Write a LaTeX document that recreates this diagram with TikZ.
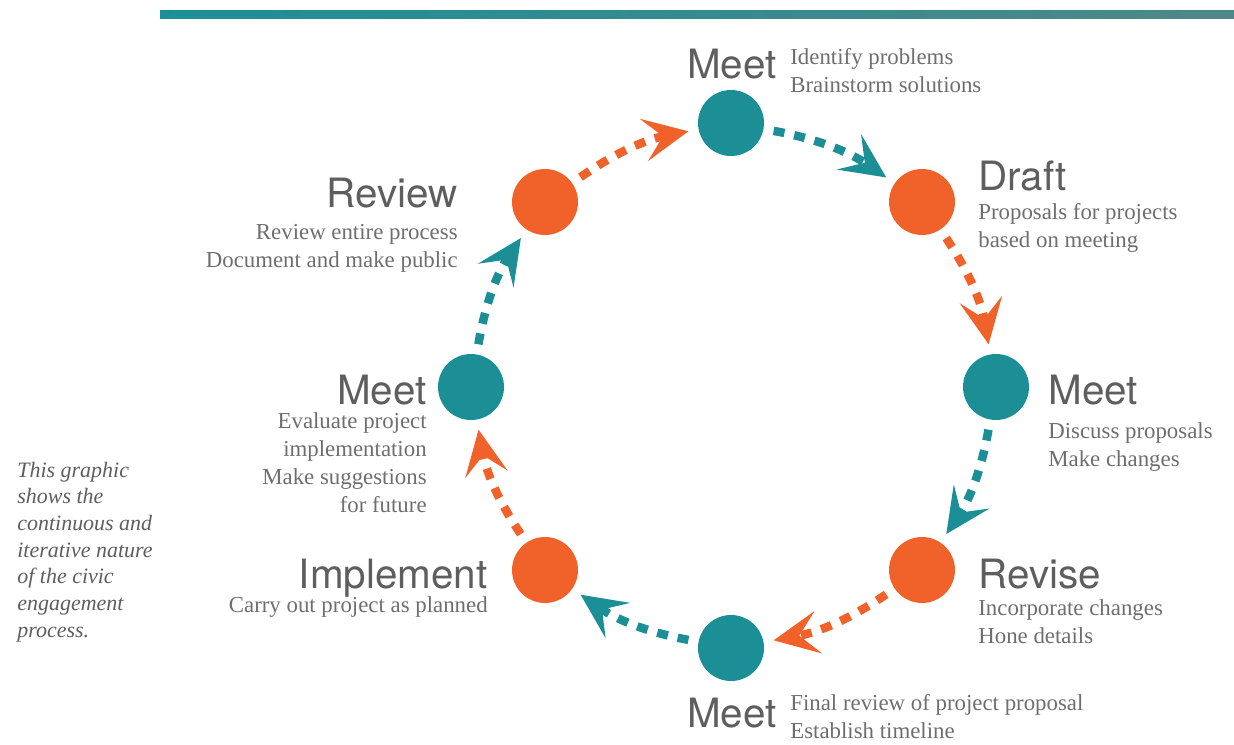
\documentclass[tikz,border=0pt]{standalone}
\usepackage{fontspec}
\setmainfont{Liberation Serif}
\newfontfamily\headfont{TeX Gyre Heros}
\usetikzlibrary{arrows.meta,positioning}
\definecolor{cycteal}{HTML}{1C8F96}
\definecolor{cycorange}{HTML}{F1622B}
\definecolor{cyctext}{HTML}{5E5E5E}
\definecolor{cycbarend}{HTML}{4E8789}

\begin{document}
\begin{tikzpicture}[
    x=0.02cm, y=-0.02cm,
    stage/.style={circle, fill=#1, minimum size=1.32cm, inner sep=0pt},
    stagename/.style={font=\headfont\fontsize{23}{26}\selectfont, text=cyctext, inner sep=0pt},
    stagenote/.style={font=\fontsize{13}{16}\selectfont, text=cyctext!90, inner sep=0pt, align=#1},
    stagenote/.default=left,
    arr/.style={draw=#1, line width=0.17cm, dash pattern=on 0.22cm off 0.2cm,
                -{Stealth[length=0.9cm, width=0.85cm, inset=0.38cm]},
                shorten <=0.2cm, shorten >=0.2cm}
]
\useasboundingbox (0,0) rectangle (1234,744);
\fill[left color=cycteal, right color=cycbarend] (160,10) rectangle (1234,18);

% the eight stages round the cycle
\node[stage=cycteal]   (meetA)     at (731,123) {};
\node[stage=cycorange] (draft)     at (922,202) {};
\node[stage=cycteal]   (meetB)     at (996,387) {};
\node[stage=cycorange] (revise)    at (922,570) {};
\node[stage=cycteal]   (meetC)     at (731,648) {};
\node[stage=cycorange] (implement) at (545,570) {};
\node[stage=cycteal]   (meetD)     at (471,387) {};
\node[stage=cycorange] (review)    at (545,202) {};

\draw[arr=cycorange] (review)    to[bend left=12] (meetA);
\draw[arr=cycteal]   (meetA)     to[bend left=12] (draft);
\draw[arr=cycorange] (draft)     to[bend left=12] (meetB);
\draw[arr=cycteal]   (meetB)     to[bend left=12] (revise);
\draw[arr=cycorange] (revise)    to[bend left=12] (meetC);
\draw[arr=cycteal]   (meetC)     to[bend left=12] (implement);
\draw[arr=cycorange] (implement) to[bend left=12] (meetD);
\draw[arr=cycteal]   (meetD)     to[bend left=12] (review);

% labels
\node[stagename, anchor=base east] (meetAname) at (777,78) {Meet};
\node[stagenote, anchor=west] (meetAnote) at (790,71) {Identify problems\\Brainstorm solutions};

\node[stagename, anchor=base west] (draftname) at (978,190) {Draft};
\node[stagenote, anchor=west] (draftnote) at (978,228) {Proposals for projects\\based on meeting};

\node[stagename, anchor=base west] (meetBname) at (1048,404) {Meet};
\node[stagenote, anchor=west] (meetBnote) at (1048,447) {Discuss proposals\\Make changes};

\node[stagename, anchor=base west] (revisename) at (978,588) {Revise};
\node[stagenote, anchor=west] (revisenote) at (978,622) {Incorporate changes\\Hone details};

\node[stagename, anchor=base east] (meetCname) at (777,727) {Meet};
\node[stagenote, anchor=west] (meetCnote) at (790,717) {Final review of project proposal\\Establish timeline};

\node[stagename, anchor=base east] (implementname) at (488,588) {Implement};
\node[stagenote=right, anchor=east] (implementnote) at (488,607) {Carry out project as planned};

\node[stagename, anchor=base east] (meetDname) at (427,404) {Meet};
\node[stagenote=right, anchor=east] (meetDnote) at (427,463) {Evaluate project\\implementation\\Make suggestions\\for future};

\node[stagename, anchor=base east] (reviewname) at (458,207) {Review};
\node[stagenote=right, anchor=east] (reviewnote) at (458,248) {Review entire process\\Document and make public};

\node[anchor=west, align=left, inner sep=0pt, text=cyctext,
      font=\itshape\fontsize{12.5}{15.2}\selectfont] (aside) at (17,552)
    {This graphic\\shows the\\continuous and\\iterative nature\\of the civic\\engagement\\process.};
\end{tikzpicture}
\end{document}
